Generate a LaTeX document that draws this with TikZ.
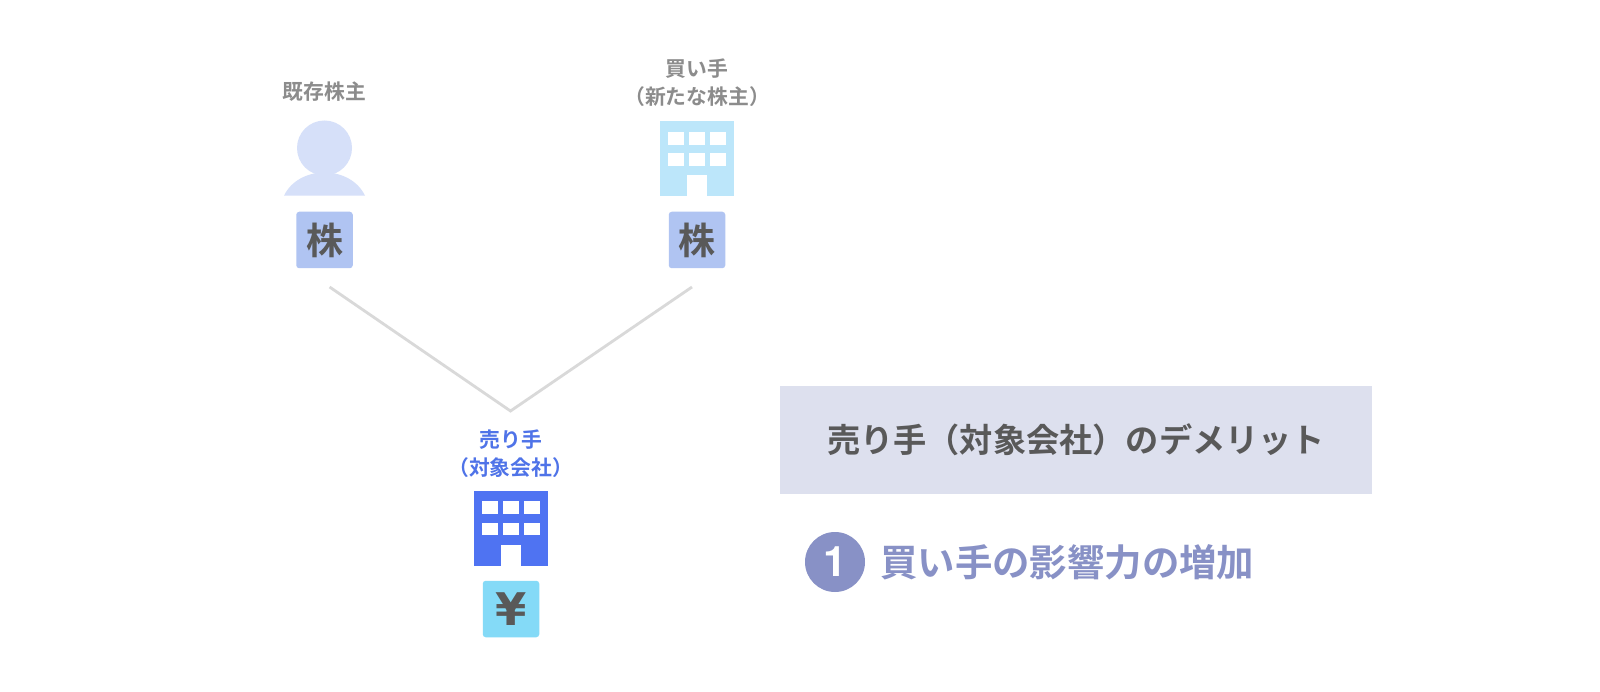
\documentclass[tikz,border=0pt]{standalone}
\usepackage{fontspec}
\setmainfont{Noto Sans CJK JP}[BoldFont={* Bold}]
\newfontfamily\latinfont{TeX Gyre Heros}[BoldFont={* Bold}]
\newfontfamily\yenfont{DejaVu Sans}[BoldFont={* Bold}]
\definecolor{personc}{HTML}{D6E0F9}
\definecolor{buyerc}{HTML}{BCE6FA}
\definecolor{sellerc}{HTML}{4F73F2}
\definecolor{kabuc}{HTML}{B0C4F2}
\definecolor{yenc}{HTML}{84DAF7}
\definecolor{darkt}{HTML}{595959}
\definecolor{greyt}{HTML}{8C8C8C}
\definecolor{bluet}{HTML}{4F73E8}
\definecolor{panelc}{HTML}{DDE0EE}
\definecolor{purplec}{HTML}{8891C6}
\definecolor{linec}{HTML}{D9D9D9}
\tikzset{
  token/.style={rounded corners=3pt,minimum width=56.5pt,minimum height=56.5pt,inner sep=0pt,text=darkt,font=\fontsize{37}{37}\selectfont\bfseries},
  lab/.style={inner sep=0pt,align=center,font=\fontsize{20.8}{28}\selectfont\bfseries},
  wall/.style={minimum width=74pt,minimum height=75pt,inner sep=0pt},
  link/.style={draw=linec,line width=2.8pt,line join=miter},
  glass/.style={fill=white}
}
\newcommand{\windowsat}[2]{%
  \begin{scope}[shift={(#1,#2)}]
    \foreach \wx in {7.6,29,50.2}{
      \foreach \wy in {10.7,32}{
        \fill[glass] (\wx,\wy) rectangle ++(16.2,12.9);
      }
    }
    \fill[glass] (26.6,54) rectangle (47.3,75.2);
  \end{scope}}
\begin{document}
\begin{tikzpicture}[x=1pt,y=-1pt]
\useasboundingbox (0,0) rectangle (1600,692);
\fill[white] (0,0) rectangle (1600,692);
% connector
\coordinate (leftend) at (329.6,287);
\coordinate (rightend) at (692,287);
\coordinate (apex) at (510.5,411);
\draw[link] (leftend) -- (apex) -- (rightend);
% existing shareholder
\node[lab,text=greyt] (ownerlab) at (324.5,92) {既存株主};
\fill[personc] (284,195.7) .. controls (291,181) and (307,172.5) .. (324.5,172.5) .. controls (342,172.5) and (358,181) .. (365,195.7) -- cycle;
\node[circle,fill=personc,minimum size=55pt,inner sep=0pt] (ownerhead) at (324.5,148) {};
\node[token,fill=kabuc] (ownerkabu) at (324.5,240) {株};
% buyer
\node[lab,text=greyt] (buyerlab) at (697,82.5) {買い手\\（新たな株主）};
\node[wall,fill=buyerc] (buyerb) at (697,158.5) {};
\windowsat{660}{121}
\node[token,fill=kabuc] (buyerkabu) at (697,240) {株};
% seller
\node[lab,text=bluet] (sellerlab) at (510.7,453.5) {売り手\\（対象会社）};
\node[wall,fill=sellerc] (sellerb) at (511,528) {};
\windowsat{474}{490.5}
\node[token,fill=yenc,font=\yenfont\fontsize{45}{45}\selectfont\bfseries] (sellercash) at (511,609) {¥};
% panel
\node[fill=panelc,minimum width=592pt,minimum height=108pt,inner sep=0pt,text=darkt,font=\fontsize{33.2}{33.2}\selectfont\bfseries] (panel) at (1076,440) {売り手（対象会社）のデメリット};
% item
\node[circle,fill=purplec,minimum size=60pt,inner sep=0pt,text=white,font=\latinfont\fontsize{42}{42}\selectfont\bfseries] (badge) at (835,562) {1};
\node[anchor=west,inner sep=0pt,text=purplec,font=\fontsize{37.4}{37.4}\selectfont\bfseries] (item) at (880,562) {買い手の影響力の増加};
\end{tikzpicture}
\end{document}
